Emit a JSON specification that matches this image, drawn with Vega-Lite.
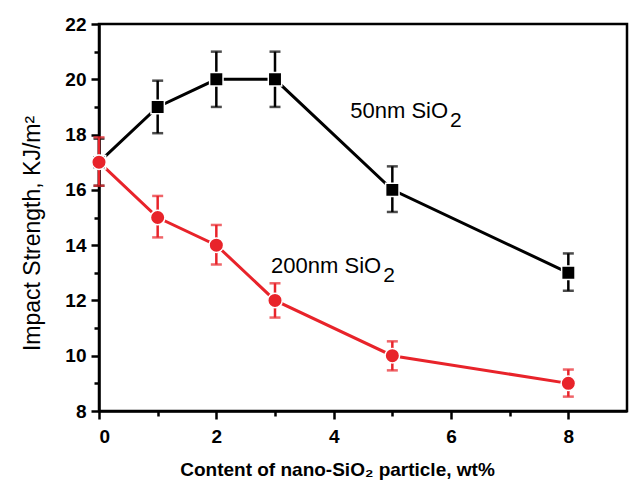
{
  "$schema": "https://vega.github.io/schema/vega-lite/v6.json",
  "autosize": "none",
  "width": 528,
  "height": 387,
  "padding": {"left": 99, "top": 24, "right": 2, "bottom": 74},
  "background": "white",
  "config": {
    "view": {"stroke": "black", "strokeWidth": 2.5},
    "axis": {
      "labelFont": "Liberation Sans", "labelFontWeight": "bold", "labelFontSize": 19, "labelColor": "black",
      "titleFont": "Liberation Sans", "titleColor": "black",
      "domainColor": "black", "domainWidth": 2.5, "tickColor": "black", "tickWidth": 2.5, "tickSize": 8, "grid": false
    }
  },
  "datasets": {
    "pts": [
      {"content": 0, "strength": 17, "lo": 16.15, "hi": 17.85, "series": "50nm"},
      {"content": 1, "strength": 19, "lo": 18.05, "hi": 19.95, "series": "50nm"},
      {"content": 2, "strength": 20, "lo": 19.0, "hi": 21.0, "series": "50nm"},
      {"content": 3, "strength": 20, "lo": 19.0, "hi": 21.0, "series": "50nm"},
      {"content": 5, "strength": 16, "lo": 15.2, "hi": 16.85, "series": "50nm"},
      {"content": 8, "strength": 13, "lo": 12.35, "hi": 13.7, "series": "50nm"},
      {"content": 0, "strength": 17, "lo": 16.15, "hi": 17.9, "series": "200nm"},
      {"content": 1, "strength": 15, "lo": 14.28, "hi": 15.78, "series": "200nm"},
      {"content": 2, "strength": 14, "lo": 13.3, "hi": 14.73, "series": "200nm"},
      {"content": 3, "strength": 12, "lo": 11.38, "hi": 12.62, "series": "200nm"},
      {"content": 5, "strength": 10, "lo": 9.47, "hi": 10.52, "series": "200nm"},
      {"content": 8, "strength": 9, "lo": 8.52, "hi": 9.5, "series": "200nm"}
    ],
    "labels": [
      {"content": 5.95, "strength": 18.6, "main": "50nm SiO", "sub": "2"},
      {"content": 4.81, "strength": 13.0, "main": "200nm SiO", "sub": "2"}
    ],
    "minor": [
      {"content": 1, "strength": 9},
      {"content": 3, "strength": 11},
      {"content": 5, "strength": 13},
      {"content": 7, "strength": 15}
    ]
  },
  "resolve": {"axis": {"x": "independent", "y": "independent"}},
  "layer": [
    {
      "data": {"name": "pts"},
      "mark": {"type": "line", "strokeWidth": 3},
      "encoding": {
        "x": {"field": "content", "type": "quantitative", "scale": {"domain": [0, 9], "nice": false, "zero": false},
          "axis": {"orient": "bottom", "values": [0, 2, 4, 6, 8], "labelPadding": 8, "title": "Content of nano-SiO₂ particle, wt%", "titleFontSize": 19, "titleFontWeight": "bold", "titlePadding": 14, "titleX": 238}},
        "y": {"field": "strength", "type": "quantitative", "scale": {"domain": [8, 22], "nice": false, "zero": false},
          "axis": {"orient": "left", "values": [8, 10, 12, 14, 16, 18, 20, 22], "labelPadding": 5, "title": "Impact Strength, KJ/m²", "titleFontSize": 23, "titleFontWeight": "normal", "titlePadding": 20, "titleY": 209}},
        "color": {"field": "series", "type": "nominal", "scale": {"domain": ["50nm", "200nm"], "range": ["#000000", "#e8232a"]}, "legend": null},
        "strokeWidth": {"field": "series", "type": "nominal", "scale": {"domain": ["50nm", "200nm"], "range": [2.8, 3.8]}, "legend": null},
        "order": {"field": "content", "type": "quantitative"}
      }
    },
    {
      "data": {"name": "minor"},
      "mark": {"type": "point", "opacity": 0},
      "encoding": {
        "x": {"field": "content", "type": "quantitative",
          "axis": {"orient": "bottom", "values": [1, 3, 5, 7], "labels": false, "domain": false, "tickSize": 5, "title": null}},
        "y": {"field": "strength", "type": "quantitative",
          "axis": {"orient": "left", "values": [9, 11, 13, 15, 17, 19, 21], "labels": false, "domain": false, "tickSize": 5, "title": null}}
      }
    },
    {
      "data": {"name": "pts"},
      "mark": {"type": "errorbar", "ticks": {"size": 11, "thickness": 2.5}, "thickness": 2.5},
      "encoding": {
        "x": {"field": "content", "type": "quantitative", "axis": null},
        "y": {"field": "lo", "type": "quantitative", "axis": null},
        "y2": {"field": "hi"},
        "color": {"field": "series", "type": "nominal", "legend": null}
      }
    },
    {
      "data": {"name": "pts"},
      "mark": {"type": "point", "filled": true, "opacity": 1, "stroke": "white", "strokeWidth": 1.5},
      "encoding": {
        "x": {"field": "content", "type": "quantitative", "axis": null},
        "y": {"field": "strength", "type": "quantitative", "axis": null},
        "fill": {"field": "series", "type": "nominal", "scale": {"domain": ["50nm", "200nm"], "range": ["#000000", "#e8232a"]}, "legend": null},
        "shape": {"field": "series", "type": "nominal", "scale": {"domain": ["50nm", "200nm"], "range": ["square", "circle"]}, "legend": null},
        "size": {"field": "series", "type": "nominal", "scale": {"domain": ["50nm", "200nm"], "range": [180, 210]}, "legend": null}
      }
    },
    {
      "data": {"name": "labels"},
      "mark": {"type": "text", "align": "right", "baseline": "alphabetic", "font": "Liberation Sans", "fontSize": 22, "color": "black"},
      "encoding": {
        "x": {"field": "content", "type": "quantitative", "axis": null},
        "y": {"field": "strength", "type": "quantitative", "axis": null},
        "text": {"field": "main"}
      }
    },
    {
      "data": {"name": "labels"},
      "mark": {"type": "text", "align": "left", "baseline": "alphabetic", "font": "Liberation Sans", "fontSize": 21, "dy": 9, "dx": 2, "color": "black"},
      "encoding": {
        "x": {"field": "content", "type": "quantitative", "axis": null},
        "y": {"field": "strength", "type": "quantitative", "axis": null},
        "text": {"field": "sub"}
      }
    }
  ]
}
